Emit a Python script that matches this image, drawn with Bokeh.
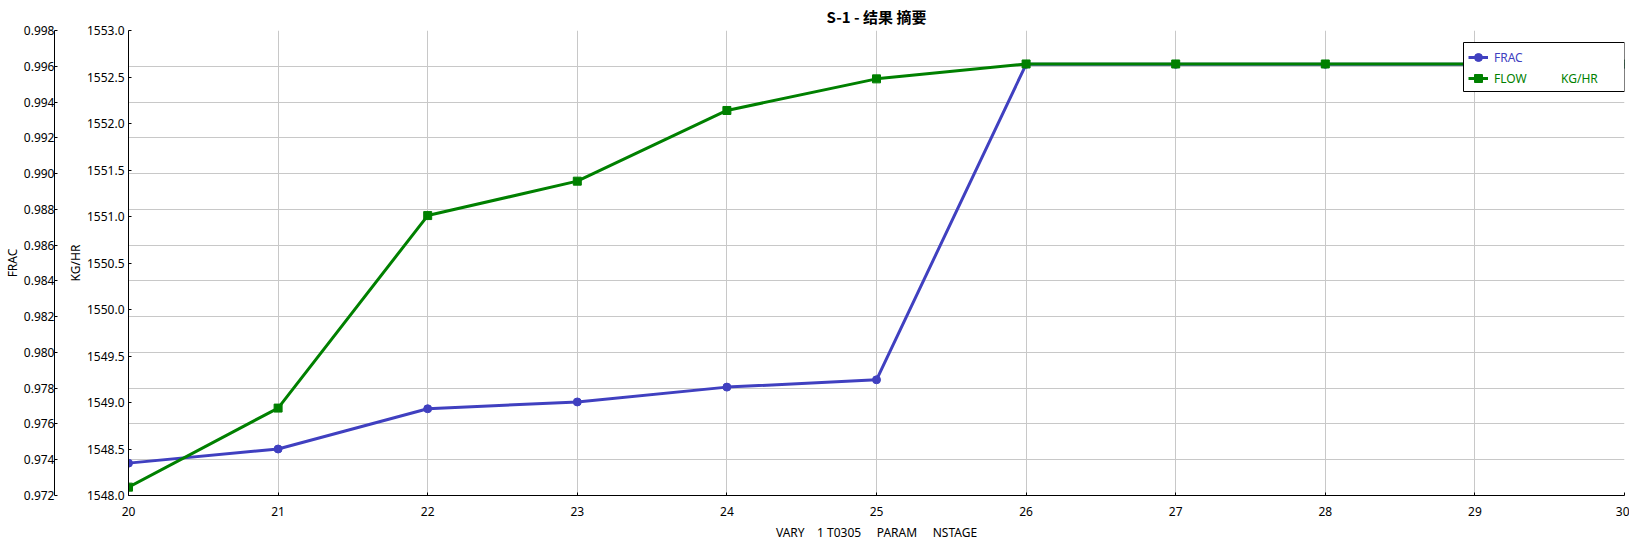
from bokeh.plotting import figure
from bokeh.models import (Range1d, LinearAxis, FixedTicker, NumeralTickFormatter,
                          Legend, LegendItem, BoxAnnotation)
from bokeh.embed import file_html
from bokeh.resources import INLINE

# ---- data ----
stages = [20, 21, 22, 23, 24, 25, 26, 27, 28, 29, 30]
frac = [0.97381, 0.97460, 0.97685, 0.97723, 0.97806, 0.97847,
        0.99611, 0.99611, 0.99611, 0.99611, 0.99611]
flow = [1548.09, 1548.94, 1551.01, 1551.38, 1552.14, 1552.48,
        1552.64, 1552.64, 1552.64, 1552.64, 1552.64]
frac_ticks = [0.972, 0.974, 0.976, 0.978, 0.980, 0.982, 0.984, 0.986,
              0.988, 0.990, 0.992, 0.994, 0.996, 0.998]
flow_ticks = [1548.0, 1548.5, 1549.0, 1549.5, 1550.0, 1550.5, 1551.0,
              1551.5, 1552.0, 1552.5, 1553.0]
title_text = "S-1 - 结果 摘要"
x_label = "VARY\u00a0\u00a0\u00a0\u00a01 T0305\u00a0\u00a0\u00a0\u00a0\u00a0PARAM\u00a0\u00a0\u00a0\u00a0\u00a0NSTAGE"
frac_label = "FRAC"
flow_label = "KG/HR"
frac_name = "FRAC"
flow_name = "FLOW" + "\u00a0" * 11 + "KG/HR"

BLUE = "#4040C0"
GREEN = "#008000"
GRID = "#C8C8C8"
FONT = "Noto Sans"

p = figure(frame_width=1496, frame_height=465, output_backend="svg", toolbar_location=None,
           x_range=Range1d(stages[0], stages[-1]),
           y_range=Range1d(frac_ticks[0], frac_ticks[-1]),
           min_border_left=122, min_border_right=5, min_border_top=25,
           min_border_bottom=44)
p.extra_y_ranges = {"kg": Range1d(flow_ticks[0], flow_ticks[-1])}
p.outline_line_color = None
p.background_fill_color = "white"
p.border_fill_color = "white"

p.title.text = title_text
p.title.align = "center"
p.title.text_font = "Noto Sans CJK SC"
p.title.text_font_size = "15px"
p.title.text_font_style = "bold"
p.title.text_color = "black"
p.title.standoff = 7

frac_axis = p.yaxis[0]
kg_axis = LinearAxis(y_range_name="kg")
# blank spacer between the two vertical axes (invisible tick, empty label)
gap_axis = LinearAxis(y_range_name="kg", ticker=FixedTicker(ticks=[flow_ticks[0] + 0.25]),
                      major_label_overrides={flow_ticks[0] + 0.25: ""},
                      axis_line_alpha=0, major_tick_line_alpha=0,
                      minor_tick_line_color=None, major_tick_in=0,
                      major_tick_out=9, major_label_standoff=0)
p.add_layout(kg_axis, "left")
p.add_layout(gap_axis, "left")
p.left = [kg_axis, gap_axis, frac_axis]

frac_axis.ticker = FixedTicker(ticks=frac_ticks)
frac_axis.formatter = NumeralTickFormatter(format="0.000")
frac_axis.axis_label = frac_label
kg_axis.ticker = FixedTicker(ticks=flow_ticks)
kg_axis.formatter = NumeralTickFormatter(format="0.0")
kg_axis.axis_label = flow_label

xaxis = p.xaxis[0]
xaxis.ticker = FixedTicker(ticks=stages)
xaxis.axis_label = x_label

for ax in (frac_axis, kg_axis, xaxis):
    ax.major_tick_in = 3
    ax.major_tick_out = 0
    ax.minor_tick_line_color = None
    ax.axis_line_color = "black"
    ax.major_tick_line_color = "black"
    ax.major_label_text_font = FONT
    ax.major_label_text_font_size = "12px"
    ax.major_label_text_color = "black"
    ax.axis_label_text_font = FONT
    ax.axis_label_text_font_size = "12px"
    ax.axis_label_text_font_style = "normal"
    ax.axis_label_text_color = "black"

frac_axis.major_label_standoff = 0
frac_axis.axis_label_standoff = 0
kg_axis.major_label_standoff = 4
kg_axis.axis_label_standoff = 0
xaxis.major_label_standoff = 11
xaxis.axis_label_standoff = 5

p.xgrid.ticker = FixedTicker(ticks=stages)
p.xgrid.grid_line_color = GRID
p.ygrid.ticker = FixedTicker(ticks=frac_ticks)
p.ygrid.grid_line_color = GRID

l1 = p.line(stages, frac, line_color=BLUE, line_width=3)
m1 = p.scatter(stages, frac, marker="circle", size=8, fill_color=BLUE, line_color=BLUE)
l2 = p.line(stages, flow, line_color=GREEN, line_width=3, y_range_name="kg")
m2 = p.scatter(stages, flow, marker="square", size=8, fill_color=GREEN, line_color=GREEN,
               y_range_name="kg")

box = BoxAnnotation(left=1335, right=1496, bottom=404, top=453,
                    left_units="screen", right_units="screen",
                    bottom_units="screen", top_units="screen",
                    fill_color="white", fill_alpha=1.0,
                    line_color="black", line_width=1, line_alpha=1.0)
p.add_layout(box)

def make_legend(item, color, loc):
    lg = Legend(items=[item], location=loc, padding=0, margin=0,
                border_line_color=None, background_fill_alpha=0,
                glyph_width=20, glyph_height=20, label_height=20,
                label_standoff=6, label_text_font=FONT,
                label_text_font_size="12px", label_text_color=color,
                spacing=0)
    return lg

p.add_layout(make_legend(LegendItem(label=frac_name, renderers=[l1, m1]), BLUE, (1340, 428)))
p.add_layout(make_legend(LegendItem(label=flow_name, renderers=[l2, m2]), GREEN, (1340, 407)))

open("out.html", "w").write(file_html(p, INLINE))
